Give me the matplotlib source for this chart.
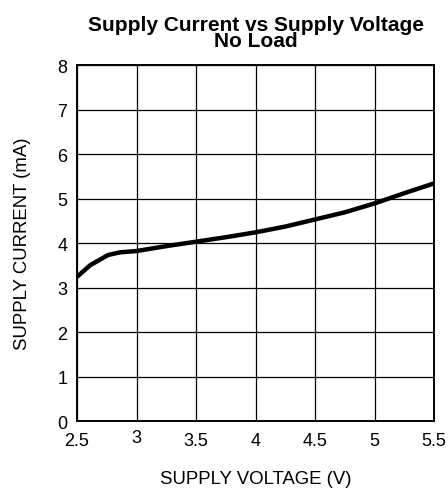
import matplotlib
matplotlib.use('Agg')
from matplotlib import pyplot as plt
import numpy as np

# supply voltage (V) vs supply current (mA)
voltage = [2.5, 2.61, 2.76, 2.86, 3.0, 3.25, 3.5, 3.75, 4.0, 4.25, 4.5, 4.75, 5.0, 5.25, 5.5]
current = [3.24, 3.50, 3.73, 3.79, 3.82, 3.93, 4.03, 4.13, 4.24, 4.37, 4.53, 4.69, 4.89, 5.12, 5.34]

x_ticks = [2.5, 3, 3.5, 4, 4.5, 5, 5.5]
x_ticklabels = ['2.5', '3', '3.5', '4', '4.5', '5', '5.5']
y_ticks = [0, 1, 2, 3, 4, 5, 6, 7, 8]

plt.rcParams['font.family'] = ['Liberation Sans', 'DejaVu Sans']

fig = plt.figure(figsize=(4.48, 4.89), dpi=100)
ax = fig.add_axes([0.172, 0.137, 0.797, 0.728])

ax.plot(voltage, current, color='black', lw=3.2, solid_capstyle='butt', zorder=3)

ax.set_xlim(2.5, 5.5)
ax.set_ylim(0, 8)
ax.set_xticks(x_ticks)
ax.set_xticklabels(x_ticklabels)
ax.set_yticks(y_ticks)
ax.tick_params(axis='both', length=0, labelsize=13)
ax.tick_params(axis='x', pad=8)
ax.tick_params(axis='y', pad=7)
# the "3" label sits a little higher in the original
for lab in ax.get_xticklabels():
    if lab.get_text() == '3':
        lab.set_y(0.008)

ax.grid(True, color='black', lw=0.9)
for sp in ax.spines.values():
    sp.set_linewidth(1.4)
    sp.set_color('black')

ax.set_xlabel('SUPPLY VOLTAGE (V)', fontsize=13.4, labelpad=15)
ax.set_ylabel('SUPPLY CURRENT (mA)', fontsize=13.4, labelpad=19)
ax.set_title('Supply Current vs Supply Voltage\nNo Load', fontsize=15,
             fontweight='bold', linespacing=0.78, pad=14)

plt.savefig('out.png', dpi=100)
